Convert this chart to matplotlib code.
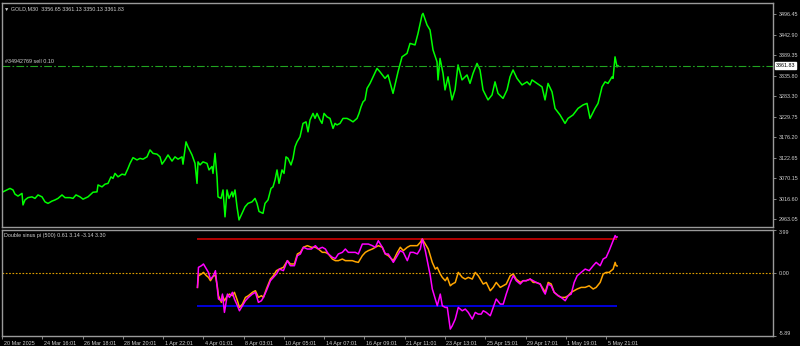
import matplotlib
matplotlib.use("Agg")
import matplotlib.pyplot as plt
from matplotlib.transforms import blended_transform_factory, ScaledTranslation

# chart texts
header = "\u25bc GOLD,M30  3356.65 3361.13 3350.13 3361.83"
order_label = "#34942769 sell 0.10"
osc_label = "Double sinus pi (500) 0.61 3.14 -3.14 3.30"

# price series (x = chart column, one date tick = 100 M30 bars)
price_x = [0, 3, 7, 10, 13, 15, 18, 22, 23, 25,
           28, 32, 35, 38, 42, 45, 48, 52, 55, 58,
           62, 65, 70, 73, 76, 80, 83, 88, 93, 97,
           98, 102, 105, 108, 111, 113, 115, 118, 122, 125,
           128, 130, 133, 137, 140, 143, 147, 150, 153, 157,
           160, 162, 165, 168, 172, 175, 178, 182, 183, 186,
           188, 192, 195, 197, 198, 200, 203, 207, 209, 212,
           213, 215, 217, 218, 221, 223, 225, 227, 229, 232,
           233, 235, 237, 239, 242, 245, 248, 252, 255, 257,
           259, 263, 265, 268, 271, 273, 275, 277, 279, 282,
           284, 286, 288, 291, 293, 295, 297, 300, 303, 306,
           308, 310, 313, 315, 317, 320, 322, 324, 327, 330,
           332, 333, 335, 337, 340, 343, 347, 350, 353, 357,
           359, 361, 363, 365, 367, 370, 377, 380, 385, 388,
           393, 398, 402, 407, 410, 415, 418, 422, 423, 427,
           430, 433, 437, 438, 440, 443, 445, 448, 452, 455,
           458, 462, 467, 470, 473, 477, 480, 483, 488, 492,
           495, 498, 503, 507, 510, 513, 517, 522, 527, 530,
           532, 537, 542, 545, 548, 552, 555, 560, 565, 568,
           573, 578, 583, 587, 590, 595, 598, 602, 605, 608,
           612, 613, 615, 617, 618]
price = [3030, 3034, 3039, 3043, 3039, 3028, 3023, 3030, 3000, 3013,
         3019, 3021, 3017, 3026, 3021, 3008, 3004, 3010, 3013, 3017,
         3026, 3019, 3019, 3017, 3026, 3021, 3015, 3021, 3033, 3034,
         3052, 3047, 3054, 3056, 3073, 3069, 3082, 3073, 3080, 3078,
         3095, 3108, 3123, 3117, 3121, 3119, 3125, 3143, 3134, 3132,
         3125, 3106, 3117, 3130, 3114, 3125, 3119, 3125, 3106, 3164,
         3151, 3130, 3108, 3056, 3112, 3104, 3112, 3108, 3091, 3100,
         3082, 3134, 3073, 3021, 3017, 3039, 2969, 3039, 3017, 3034,
         3021, 3039, 2995, 2961, 2978, 2995, 3004, 3008, 3017, 3004,
         2983, 2978, 3004, 3013, 3043, 3047, 3065, 3091, 3056, 3091,
         3082, 3125, 3121, 3104, 3121, 3151, 3164, 3177, 3212, 3216,
         3190, 3221, 3238, 3225, 3238, 3221, 3212, 3238, 3229, 3225,
         3208, 3199, 3212, 3208, 3212, 3225, 3225, 3221, 3216, 3225,
         3238, 3255, 3268, 3273, 3303, 3316, 3355, 3346, 3329, 3338,
         3290, 3346, 3385, 3394, 3420, 3416, 3446, 3494, 3498, 3468,
         3455, 3403, 3372, 3325, 3381, 3342, 3299, 3333, 3273, 3299,
         3364, 3325, 3338, 3316, 3342, 3368, 3351, 3299, 3273, 3286,
         3320, 3290, 3277, 3299, 3333, 3351, 3329, 3312, 3320, 3312,
         3325, 3316, 3307, 3273, 3316, 3294, 3251, 3234, 3212, 3225,
         3234, 3251, 3260, 3264, 3225, 3251, 3264, 3307, 3320, 3316,
         3333, 3329, 3385, 3359, 3361.83]
last_price = 3361.83
order_price = 3361.83
price_ticks = [3496.45, 3442.90, 3389.35, 3335.80, 3283.30, 3229.75,
               3176.20, 3122.65, 3070.15, 3016.60, 2963.05]

# indicator window
osc_x = [197, 198, 201, 203, 206, 208, 210, 213, 215, 217,
         218, 221, 222, 224, 227, 229, 232, 234, 237, 239,
         242, 245, 248, 252, 255, 258, 261, 263, 266, 270,
         273, 276, 279, 283, 287, 290, 294, 297, 300, 303,
         307, 311, 315, 318, 322, 325, 328, 332, 335, 338,
         342, 345, 348, 352, 355, 358, 362, 365, 368, 372,
         375, 378, 382, 385, 388, 393, 397, 400, 403, 407,
         410, 413, 417, 420, 422, 425, 428, 430, 432, 435,
         437, 440, 442, 445, 447, 450, 452, 455, 458, 462,
         465, 468, 472, 475, 478, 481, 483, 486, 490, 493,
         496, 500, 503, 506, 510, 513, 516, 520, 523, 526,
         530, 533, 536, 540, 543, 545, 548, 551, 554, 558,
         561, 565, 568, 571, 574, 577, 581, 585, 589, 593,
         596, 600, 603, 606, 609, 611, 613, 615, 616, 617]
osc_fast = [-1.38, 0.48, 0.63, 0.79, 0.32, 0.01, -0.61, -0.30, 0.17, -1.53,
            -2.46, -2.62, -2.00, -3.70, -2.00, -2.31, -1.84, -2.46, -3.08, -3.55,
            -3.08, -2.62, -2.31, -2.00, -1.84, -2.77, -2.62, -2.31, -1.69, -0.76,
            -0.45, -0.14, 0.32, 0.17, 1.10, 0.63, 0.63, 1.56, 1.72, 2.34,
            2.18, 2.18, 2.49, 2.18, 2.34, 2.18, 1.72, 1.41, 1.30, 1.72,
            1.87, 2.18, 1.87, 1.87, 1.87, 1.72, 2.64, 2.64, 2.64, 2.49,
            2.34, 2.95, 2.34, 1.72, 1.72, 0.94, 1.56, 2.03, 1.87, 1.10,
            1.87, 1.87, 1.72, 2.18, 3.11, 2.03, 0.63, -0.30, -1.53, -2.46,
            -3.08, -2.00, -3.08, -3.24, -3.24, -5.25, -4.94, -4.32, -3.24, -3.55,
            -3.39, -3.70, -4.32, -3.70, -3.86, -3.86, -3.55, -3.70, -4.01, -3.24,
            -2.46, -2.93, -2.93, -2.00, -0.92, -0.30, -0.76, -1.07, -0.76, -0.76,
            -0.61, -0.76, -0.92, -1.07, -1.69, -2.00, -1.07, -1.23, -1.84, -2.15,
            -2.31, -2.62, -2.15, -2.00, -0.92, -0.30, 0.01, 0.32, 0.17, 0.63,
            0.94, 0.63, 1.25, 1.41, 2.03, 2.49, 2.95, 3.43, 3.27, 3.30]
osc_slow = [-1.38, -0.30, -0.14, 0.01, -0.30, -0.45, -0.76, -0.30, -0.30, -1.38,
            -2.15, -2.77, -2.15, -2.62, -2.15, -2.00, -2.15, -1.84, -2.62, -3.24,
            -2.93, -2.31, -2.15, -1.84, -1.69, -2.31, -2.15, -2.31, -1.53, -0.61,
            -0.30, 0.17, 0.32, 0.48, 1.10, 0.79, 0.79, 1.72, 1.87, 2.34,
            2.49, 2.34, 2.34, 2.18, 1.87, 1.87, 1.72, 1.25, 1.10, 1.10,
            1.25, 1.10, 1.10, 1.10, 1.00, 0.94, 1.56, 1.87, 2.03, 2.18,
            2.34, 2.49, 2.34, 1.72, 1.56, 1.10, 1.87, 2.34, 2.03, 2.34,
            2.49, 2.49, 2.49, 2.80, 3.11, 2.64, 2.18, 1.56, 0.94, 0.32,
            0.48, -0.14, -0.45, -0.76, -0.45, -1.23, -1.07, -0.92, 0.01, -0.45,
            -0.61, -0.45, -0.61, 0.01, -0.30, -0.76, -1.07, -0.92, -1.69, -1.38,
            -0.92, -1.38, -1.23, -1.07, -0.30, -0.14, -0.61, -0.92, -0.76, -0.76,
            -0.61, -0.92, -0.92, -1.07, -1.53, -1.84, -0.92, -1.07, -1.84, -2.15,
            -2.31, -2.31, -2.15, -1.84, -1.69, -1.53, -1.38, -1.38, -1.23, -1.53,
            -1.38, -0.92, -0.14, 0.01, 0.01, 0.17, 0.32, 0.94, 0.63, 0.61]
upper_level = 3.14
lower_level = -3.14
osc_min, osc_max = -5.89, 3.99

date_pos = [1.4, 41.7, 82.0, 122.3, 162.6, 202.9, 243.2, 283.5,
            323.8, 364.1, 404.4, 444.7, 485.0, 525.3, 565.6, 605.9]
date_labels = ["20 Mar 2025", "24 Mar 16:01", "26 Mar 18:01", "28 Mar 20:01",
               "1 Apr 22:01", "4 Apr 01:01", "8 Apr 03:01", "10 Apr 05:01",
               "14 Apr 07:01", "16 Apr 09:01", "21 Apr 11:01", "23 Apr 13:01",
               "25 Apr 15:01", "29 Apr 17:01", "1 May 19:01", "5 May 21:01"]

FONT = ["Liberation Sans", "DejaVu Sans"]
FS = 3.9
TXT = "#d0d0d0"
EDGE = "#9a9a9a"

plt.rcParams["font.family"] = FONT

fig = plt.figure(figsize=(8, 3.46), dpi=100, facecolor="black")
ax = fig.add_axes([0.0025, 0.3439, 0.9638, 0.6474], facecolor="black")
ax2 = fig.add_axes([0.0025, 0.0289, 0.9638, 0.3078], facecolor="black")

for a in (ax, ax2):
    a.set_xlim(2, 773)
    for s in a.spines.values():
        s.set_color(EDGE)
        s.set_linewidth(1.0)
    a.yaxis.tick_right()
    a.tick_params(axis="y", colors=EDGE, labelcolor=TXT, labelsize=FS,
                  length=2.5, width=0.6, pad=1.5, direction="out")

# main price window
ax.plot(price_x, price, color="#00ff00", lw=1.1)
ax.axhline(order_price, color="#21a321", lw=0.8, ls=(0, (7, 2, 1.5, 2)))
ax.set_ylim(2942.6, 3525.0)
ax.set_yticks(price_ticks)
ax.set_yticklabels([f"{v:.2f}" for v in price_ticks])
ax.set_xticks([])

tr = blended_transform_factory(ax.transAxes, ax.transData)
ax.text(1.004, last_price, f"{last_price:.2f}", transform=tr, fontsize=FS,
        color="black", va="center", ha="left",
        bbox=dict(boxstyle="square,pad=0.15", fc="white", ec="white"))
ax.text(0.004, order_price + 4, order_label, transform=tr, fontsize=FS,
        color=TXT, va="bottom", ha="left")
ax.text(0.003, 0.975, header, transform=ax.transAxes, fontsize=FS,
        color=TXT, va="center", ha="left")

# indicator window
ax2.axhline(0, color="#e0a000", lw=0.8, ls=(0, (1.5, 1.5)))
ax2.hlines([upper_level], osc_x[0], osc_x[-1], color="#d00000", lw=1.2)
ax2.hlines([lower_level], osc_x[0], osc_x[-1], color="#0000ff", lw=1.2)
ax2.plot(osc_x, osc_slow, color="#ffa500", lw=1.1)
ax2.plot(osc_x, osc_fast, color="#ff00ff", lw=1.1)
ax2.set_ylim(osc_min, osc_max)
ax2.set_yticks([osc_max, 0.0, osc_min])
ax2.set_yticklabels([f"{osc_max:.2f}", "0.00", f"{osc_min:.2f}"])
ylabs = ax2.get_yticklabels()
ylabs[0].set_va("top")
ylabs[-1].set_va("bottom")
ax2.text(0.002, 0.94, osc_label, transform=ax2.transAxes, fontsize=FS,
         color=TXT, va="center", ha="left")

ax2.set_xticks(date_pos)
ax2.set_xticklabels(date_labels, ha="left")
ax2.tick_params(axis="x", colors=EDGE, labelcolor=TXT, labelsize=FS,
                length=2.5, width=0.6, pad=0.8, direction="out")
offset = ScaledTranslation(1.5 / 100, 0, fig.dpi_scale_trans)
for lab in ax2.get_xticklabels():
    lab.set_transform(lab.get_transform() + offset)

fig.savefig("out.png", dpi=100, facecolor="black")
